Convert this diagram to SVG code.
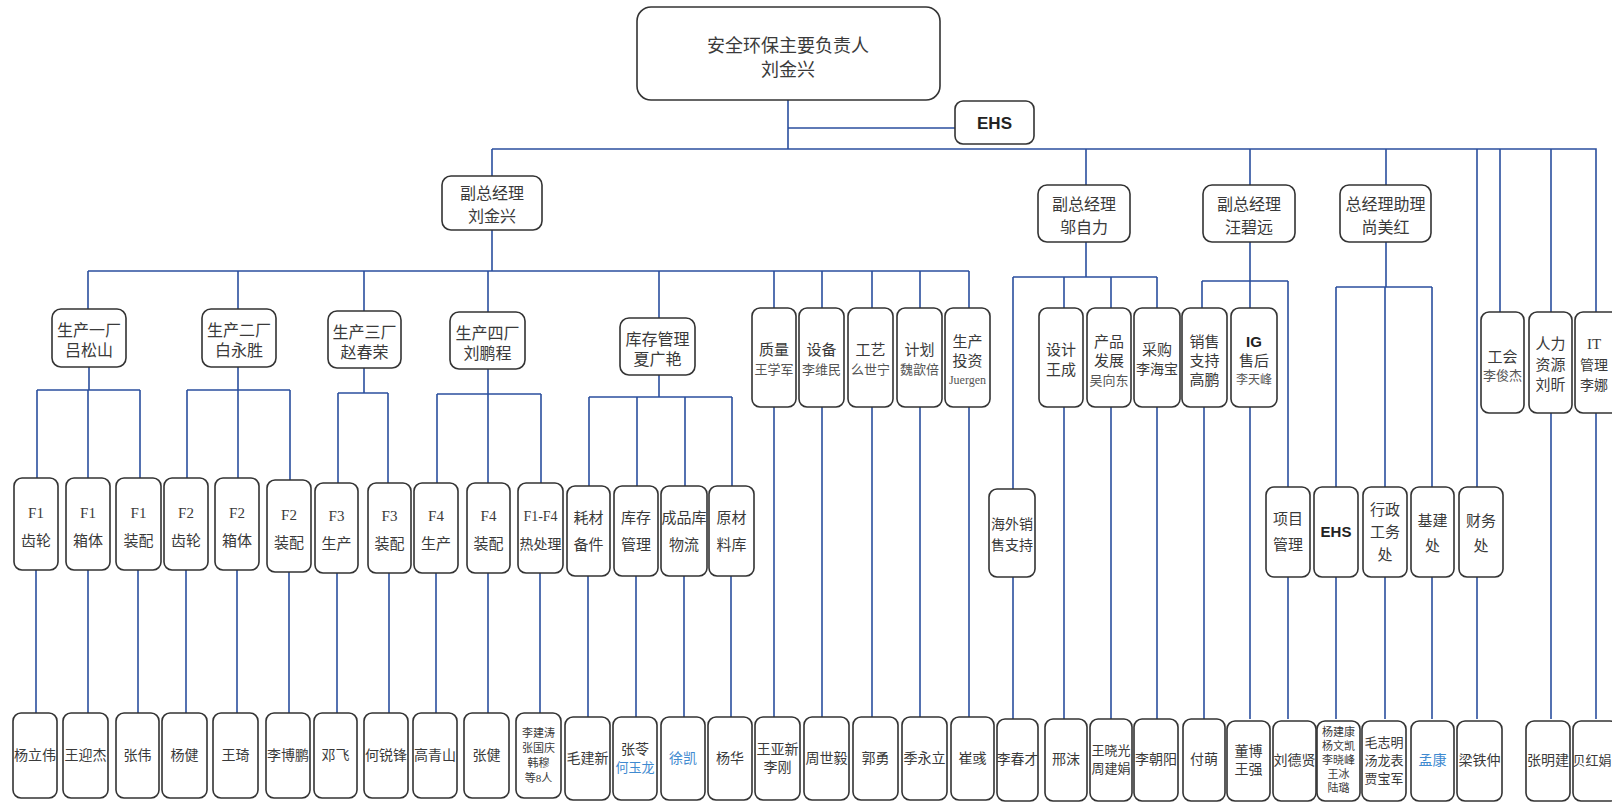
<svg xmlns="http://www.w3.org/2000/svg" width="1612" height="803" viewBox="0 0 1612 803">
<style>
.b{fill:#fff;stroke:#333;stroke-width:1.6}
.c{fill:none;stroke:#2b4f9e;stroke-width:1.6}
text{font-family:"Liberation Serif","Noto Sans CJK SC",serif;fill:#3a3a3a;text-anchor:middle}
.f18{font-size:18px}.f16{font-size:16px}.f15{font-size:15px}.f14{font-size:14px}.f13{font-size:13px}.f12{font-size:12px}.f11{font-size:11px}
.n{fill:#555}
.bl{fill:#3f8ad0}
.bd{font-family:"Liberation Sans",Arial,sans-serif;font-weight:bold;fill:#222}
</style>
<rect width="1612" height="803" fill="#fff"/>
<g id="connectors" class="c">
<path d="M788 100V149M788 128H955M492 149H1596V312M492 149V176M1086 149V185M1250 149V185M1386 149V185M1477 149V487M1500 149V312M1551 149V312"/>
<path d="M492 230V271M88 271H969M88 271V309M238 271V309M364 271V311M488 271V312M659 271V318M774 271V308M822 271V308M872 271V308M920 271V308M969 271V308"/>
<path d="M1086 242V277M1013 277H1157M1013 277V489M1064 277V308M1111 277V308M1157 277V308"/>
<path d="M1250 242V281M1202 281H1288M1202 281V308M1250 281V308M1288 281V487"/>
<path d="M1386 242V287M1336 287H1432M1336 287V487M1385 287V487M1432 287V487"/>
<path d="M89 367V390M37 390H140M37 390V478M88 390V478M140 390V478"/>
<path d="M238 367V390M187 390H290M187 390V478M238 390V478M290 390V480"/>
<path d="M364 368V393M338 393H388M338 393V483M388 393V483"/>
<path d="M488 369V394M437 394H541M437 394V483M488 394V483M541 394V483"/>
<path d="M659 375V397M589 397H732M589 397V486M637 397V486M685 397V486M732 397V486"/>
<path d="M36 570V713M88 570V713M138 570V713M186 570V713M237 570V713M289 572V713M337 573V713M389 573V713M436 573V713M488 573V713M540 573V713"/>
<path d="M588 576V717M636 576V717M684 576V717M731 576V717M774 407V717M822 407V717M872 407V717M920 407V717M969 407V717"/>
<path d="M1013 577V719M1064 407V719M1111 407V719M1157 407V719M1204 407V719M1250 407V719M1288 577V719M1336 577V719M1385 577V719M1432 577V719M1477 577V719M1551 413V719M1596 413V719"/>
</g>
<g id="n-top"><rect class="b" x="637" y="7" width="303" height="93" rx="14"/><text class="f18" x="788" y="52">安全环保主要负责人</text><text class="f18" x="788" y="76">刘金兴</text></g>
<g id="n-ehs-top"><rect class="b" x="955" y="101" width="79" height="43" rx="8"/><text class="bd" style="font-size:17px" x="994.5" y="129">EHS</text></g>
<g id="n-vp1"><rect class="b" x="442" y="176" width="100" height="54" rx="9"/><text class="f16" x="492" y="199">副总经理</text><text class="f16" x="492" y="222">刘金兴</text></g>
<g id="n-vp2"><rect class="b" x="1038" y="185" width="92" height="57" rx="9"/><text class="f16" x="1084" y="210">副总经理</text><text class="f16" x="1084" y="233">邬自力</text></g>
<g id="n-vp3"><rect class="b" x="1203" y="185" width="92" height="57" rx="9"/><text class="f16" x="1249" y="210">副总经理</text><text class="f16" x="1249" y="233">汪碧远</text></g>
<g id="n-ast"><rect class="b" x="1340" y="185" width="91" height="57" rx="9"/><text class="f16" x="1385.5" y="210">总经理助理</text><text class="f16" x="1385.5" y="233">尚美红</text></g>
<g id="n-p1"><rect class="b" x="52" y="309" width="74" height="58" rx="9"/><text class="f16" x="89" y="336">生产一厂</text><text class="f16" x="89" y="356">吕松山</text></g>
<g id="n-p2"><rect class="b" x="202" y="309" width="74" height="58" rx="9"/><text class="f16" x="239" y="336">生产二厂</text><text class="f16" x="239" y="356">白永胜</text></g>
<g id="n-p3"><rect class="b" x="328" y="311" width="73" height="57" rx="9"/><text class="f16" x="364.5" y="338">生产三厂</text><text class="f16" x="364.5" y="358">赵春荣</text></g>
<g id="n-p4"><rect class="b" x="450" y="312" width="75" height="57" rx="9"/><text class="f16" x="487.5" y="339">生产四厂</text><text class="f16" x="487.5" y="359">刘鹏程</text></g>
<g id="n-inv"><rect class="b" x="620" y="318" width="75" height="57" rx="9"/><text class="f16" x="657.5" y="345">库存管理</text><text class="f16" x="657.5" y="365">夏广艳</text></g>
<g id="n-q"><rect class="b" x="752" y="308" width="44" height="99" rx="8"/><text class="f15" x="774" y="355">质量</text><text class="f13 n" x="774" y="373.5">王学军</text></g>
<g id="n-eq"><rect class="b" x="799" y="308" width="45" height="99" rx="8"/><text class="f15" x="821.5" y="355">设备</text><text class="f13 n" x="821.5" y="373.5">李维民</text></g>
<g id="n-pr"><rect class="b" x="848" y="308" width="45" height="99" rx="8"/><text class="f15" x="870.5" y="355">工艺</text><text class="f13 n" x="870.5" y="373.5">么世宁</text></g>
<g id="n-pl"><rect class="b" x="897" y="308" width="45" height="99" rx="8"/><text class="f15" x="919.5" y="355">计划</text><text class="f13 n" x="919.5" y="373.5">魏歆倍</text></g>
<g id="n-inv2"><rect class="b" x="945" y="308" width="45" height="99" rx="8"/><text class="f15" x="967.5" y="347">生产</text><text class="f15" x="967.5" y="366">投资</text><text class="f12 n" x="967.5" y="384">Juergen</text></g>
<g id="n-des"><rect class="b" x="1039" y="308" width="44" height="99" rx="8"/><text class="f15" x="1061" y="355">设计</text><text class="f15" x="1061" y="375">王成</text></g>
<g id="n-pd"><rect class="b" x="1087" y="308" width="44" height="99" rx="8"/><text class="f15" x="1109" y="347">产品</text><text class="f15" x="1109" y="366">发展</text><text class="f13 n" x="1109" y="384.5">吴向东</text></g>
<g id="n-pur"><rect class="b" x="1134" y="308" width="46" height="99" rx="8"/><text class="f15" x="1157" y="355">采购</text><text class="f14" x="1157" y="374">李海宝</text></g>
<g id="n-ss"><rect class="b" x="1182" y="308" width="45" height="99" rx="8"/><text class="f15" x="1204.5" y="347">销售</text><text class="f15" x="1204.5" y="366">支持</text><text class="f15" x="1204.5" y="385">高鹏</text></g>
<g id="n-ig"><rect class="b" x="1231" y="308" width="46" height="99" rx="8"/><text class="bd" style="font-size:15px" x="1254" y="347">IG</text><text class="f15" x="1254" y="366">售后</text><text class="f12 n" x="1254" y="384">李天峰</text></g>
<g id="n-union"><rect class="b" x="1481" y="312" width="43" height="101" rx="8"/><text class="f15" x="1502.5" y="362">工会</text><text class="f13 n" x="1502.5" y="379.5">李俊杰</text></g>
<g id="n-hr"><rect class="b" x="1529" y="312" width="43" height="101" rx="8"/><text class="f15" x="1550.5" y="348.5">人力</text><text class="f15" x="1550.5" y="369.5">资源</text><text class="f15" x="1550.5" y="389.5">刘昕</text></g>
<g id="n-it"><rect class="b" x="1575" y="312" width="45" height="101" rx="8"/><text class="f15" x="1594" y="348.5">IT</text><text class="f14" x="1594" y="369.5">管理</text><text class="f14" x="1594" y="389.5">李娜</text></g>
<g id="n-f1a"><rect class="b" x="14" y="478" width="44" height="92" rx="8"/><text class="f15" x="36" y="518">F1</text><text class="f15" x="36" y="546">齿轮</text></g>
<g id="n-f1b"><rect class="b" x="66" y="478" width="44" height="92" rx="8"/><text class="f15" x="88" y="518">F1</text><text class="f15" x="88" y="546">箱体</text></g>
<g id="n-f1c"><rect class="b" x="116" y="478" width="45" height="92" rx="8"/><text class="f15" x="138.5" y="518">F1</text><text class="f15" x="138.5" y="546">装配</text></g>
<g id="n-f2a"><rect class="b" x="164" y="478" width="44" height="92" rx="8"/><text class="f15" x="186" y="518">F2</text><text class="f15" x="186" y="546">齿轮</text></g>
<g id="n-f2b"><rect class="b" x="215" y="478" width="44" height="92" rx="8"/><text class="f15" x="237" y="518">F2</text><text class="f15" x="237" y="546">箱体</text></g>
<g id="n-f2c"><rect class="b" x="267" y="480" width="44" height="92" rx="8"/><text class="f15" x="289" y="520">F2</text><text class="f15" x="289" y="548">装配</text></g>
<g id="n-f3a"><rect class="b" x="315" y="483" width="43" height="90" rx="8"/><text class="f15" x="336.5" y="521">F3</text><text class="f15" x="336.5" y="549">生产</text></g>
<g id="n-f3b"><rect class="b" x="368" y="483" width="43" height="90" rx="8"/><text class="f15" x="389.5" y="521">F3</text><text class="f15" x="389.5" y="549">装配</text></g>
<g id="n-f4a"><rect class="b" x="414" y="483" width="44" height="90" rx="8"/><text class="f15" x="436" y="521">F4</text><text class="f15" x="436" y="549">生产</text></g>
<g id="n-f4b"><rect class="b" x="467" y="483" width="43" height="90" rx="8"/><text class="f15" x="488.5" y="521">F4</text><text class="f15" x="488.5" y="549">装配</text></g>
<g id="n-f14"><rect class="b" x="518" y="483" width="45" height="90" rx="8"/><text class="f14" x="540.5" y="521">F1-F4</text><text class="f14" x="540.5" y="549">热处理</text></g>
<g id="n-mat"><rect class="b" x="567" y="486" width="43" height="90" rx="8"/><text class="f15" x="588.5" y="523">耗材</text><text class="f15" x="588.5" y="550">备件</text></g>
<g id="n-stk"><rect class="b" x="614" y="486" width="44" height="90" rx="8"/><text class="f15" x="636" y="523">库存</text><text class="f15" x="636" y="550">管理</text></g>
<g id="n-fg"><rect class="b" x="661" y="486" width="46" height="90" rx="8"/><text class="f15" x="684" y="523">成品库</text><text class="f15" x="684" y="550">物流</text></g>
<g id="n-raw"><rect class="b" x="709" y="486" width="45" height="90" rx="8"/><text class="f15" x="731.5" y="523">原材</text><text class="f15" x="731.5" y="550">料库</text></g>
<g id="n-os"><rect class="b" x="989" y="489" width="46" height="88" rx="8"/><text class="f14" x="1012" y="529">海外销</text><text class="f14" x="1012" y="550">售支持</text></g>
<g id="n-pm"><rect class="b" x="1266" y="487" width="44" height="90" rx="8"/><text class="f15" x="1288" y="524">项目</text><text class="f15" x="1288" y="550">管理</text></g>
<g id="n-ehs2"><rect class="b" x="1314" y="487" width="44" height="90" rx="8"/><text class="bd" style="font-size:15px" x="1336" y="537">EHS</text></g>
<g id="n-adm"><rect class="b" x="1363" y="487" width="44" height="90" rx="8"/><text class="f15" x="1385" y="515">行政</text><text class="f15" x="1385" y="537">工务</text><text class="f15" x="1385" y="560">处</text></g>
<g id="n-con"><rect class="b" x="1411" y="487" width="43" height="90" rx="8"/><text class="f15" x="1432.5" y="526">基建</text><text class="f15" x="1432.5" y="551">处</text></g>
<g id="n-fin"><rect class="b" x="1459" y="487" width="44" height="90" rx="8"/><text class="f15" x="1481" y="526">财务</text><text class="f15" x="1481" y="551">处</text></g>
<g id="n-b1"><rect class="b" x="13" y="713" width="44" height="85" rx="8"/><text class="f14" x="35" y="760">杨立伟</text></g>
<g id="n-b2"><rect class="b" x="63" y="713" width="45" height="85" rx="8"/><text class="f14" x="85.5" y="760">王迎杰</text></g>
<g id="n-b3"><rect class="b" x="116" y="713" width="43" height="85" rx="8"/><text class="f14" x="137.5" y="760">张伟</text></g>
<g id="n-b4"><rect class="b" x="162" y="713" width="45" height="85" rx="8"/><text class="f14" x="184.5" y="760">杨健</text></g>
<g id="n-b5"><rect class="b" x="213" y="713" width="45" height="85" rx="8"/><text class="f14" x="235.5" y="760">王琦</text></g>
<g id="n-b6"><rect class="b" x="266" y="713" width="44" height="85" rx="8"/><text class="f14" x="288" y="760">李博鹏</text></g>
<g id="n-b7"><rect class="b" x="314" y="713" width="43" height="85" rx="8"/><text class="f14" x="335.5" y="760">邓飞</text></g>
<g id="n-b8"><rect class="b" x="364" y="713" width="44" height="85" rx="8"/><text class="f14" x="386" y="760">何锐锋</text></g>
<g id="n-b9"><rect class="b" x="413" y="713" width="44" height="85" rx="8"/><text class="f14" x="435" y="760">高青山</text></g>
<g id="n-b10"><rect class="b" x="464" y="713" width="45" height="85" rx="8"/><text class="f14" x="486.5" y="760">张健</text></g>
<g id="n-b11"><rect class="b" x="516" y="713" width="45" height="85" rx="8"/><text class="f11" x="538.5" y="737">李建涛</text><text class="f11" x="538.5" y="752">张国庆</text><text class="f11" x="538.5" y="767">韩穆</text><text class="f11" x="538.5" y="782">等8人</text></g>
<g id="n-b12"><rect class="b" x="565" y="717" width="45" height="83" rx="8"/><text class="f14" x="587.5" y="763">毛建新</text></g>
<g id="n-b13"><rect class="b" x="613" y="717" width="44" height="83" rx="8"/><text class="f14" x="635" y="754">张苓</text><text class="f13 bl" x="635" y="772">何玉龙</text></g>
<g id="n-b14"><rect class="b" x="661" y="717" width="44" height="83" rx="8"/><text class="f14 bl" x="683" y="763">徐凯</text></g>
<g id="n-b15"><rect class="b" x="708" y="717" width="44" height="83" rx="8"/><text class="f14" x="730" y="763">杨华</text></g>
<g id="n-b16"><rect class="b" x="755" y="717" width="45" height="83" rx="8"/><text class="f14" x="777.5" y="754">王亚新</text><text class="f14" x="777.5" y="772">李刚</text></g>
<g id="n-b17"><rect class="b" x="804" y="717" width="45" height="83" rx="8"/><text class="f14" x="826.5" y="763">周世毅</text></g>
<g id="n-b18"><rect class="b" x="853" y="717" width="45" height="83" rx="8"/><text class="f14" x="875.5" y="763">郭勇</text></g>
<g id="n-b19"><rect class="b" x="902" y="717" width="45" height="83" rx="8"/><text class="f14" x="924.5" y="763">季永立</text></g>
<g id="n-b20"><rect class="b" x="951" y="717" width="43" height="83" rx="8"/><text class="f14" x="972.5" y="763">崔彧</text></g>
<g id="n-b21"><rect class="b" x="997" y="719" width="41" height="82" rx="8"/><text class="f14" x="1017.5" y="764">李春才</text></g>
<g id="n-b22"><rect class="b" x="1045" y="719" width="42" height="82" rx="8"/><text class="f14" x="1066" y="764">邢沫</text></g>
<g id="n-b23"><rect class="b" x="1090" y="719" width="42" height="82" rx="8"/><text class="f13" x="1111" y="755">王晓光</text><text class="f13" x="1111" y="773">周建娟</text></g>
<g id="n-b24"><rect class="b" x="1134" y="719" width="44" height="82" rx="8"/><text class="f14" x="1156" y="764">李朝阳</text></g>
<g id="n-b25"><rect class="b" x="1183" y="719" width="42" height="82" rx="8"/><text class="f14" x="1204" y="764">付萌</text></g>
<g id="n-b26"><rect class="b" x="1227" y="721" width="43" height="80" rx="8"/><text class="f14" x="1248.5" y="756">董博</text><text class="f14" x="1248.5" y="774">王强</text></g>
<g id="n-b27"><rect class="b" x="1273" y="721" width="43" height="80" rx="8"/><text class="f14" x="1294.5" y="765">刘德贤</text></g>
<g id="n-b28"><rect class="b" x="1317" y="721" width="43" height="80" rx="8"/><text class="f11" x="1338.5" y="736">杨建康</text><text class="f11" x="1338.5" y="750">杨文凯</text><text class="f11" x="1338.5" y="764">李晓峰</text><text class="f11" x="1338.5" y="778">王冰</text><text class="f11" x="1338.5" y="792">陆璐</text></g>
<g id="n-b29"><rect class="b" x="1362" y="721" width="44" height="80" rx="8"/><text class="f13" x="1384" y="747">毛志明</text><text class="f13" x="1384" y="765">汤龙表</text><text class="f13" x="1384" y="783">贾宝军</text></g>
<g id="n-b30"><rect class="b" x="1411" y="721" width="43" height="80" rx="8"/><text class="f14 bl" x="1432.5" y="765">孟康</text></g>
<g id="n-b31"><rect class="b" x="1457" y="721" width="45" height="80" rx="8"/><text class="f14" x="1479.5" y="765">梁铁仲</text></g>
<g id="n-b32"><rect class="b" x="1526" y="721" width="44" height="80" rx="8"/><text class="f14" x="1548" y="765">张明建</text></g>
<g id="n-b33"><rect class="b" x="1573" y="721" width="45" height="80" rx="8"/><text class="f13" x="1592" y="765">贝红娟</text></g>
</svg>
